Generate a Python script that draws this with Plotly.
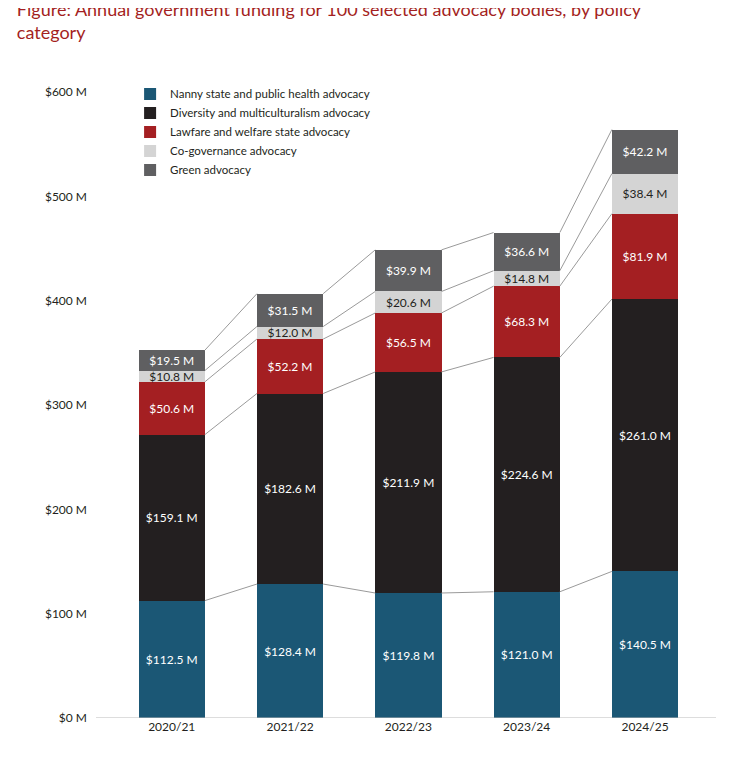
import plotly.graph_objects as go

years = ["2020/21", "2021/22", "2022/23", "2023/24", "2024/25"]
nanny = [112.5, 128.4, 119.8, 121.0, 140.5]
diversity = [159.1, 182.6, 211.9, 224.6, 261.0]
lawfare = [50.6, 52.2, 56.5, 68.3, 81.9]
cogov = [10.8, 12.0, 20.6, 14.8, 38.4]
green = [19.5, 31.5, 39.9, 36.6, 42.2]

series = [
    ("Nanny state and public health advocacy", nanny, "#1B5775", "white"),
    ("Diversity and multiculturalism advocacy", diversity, "#231F20", "white"),
    ("Lawfare and welfare state advocacy", lawfare, "#A41F22", "white"),
    ("Co-governance advocacy", cogov, "#D4D4D4", "#231F20"),
    ("Green advocacy", green, "#5F5F61", "white"),
]

W = 0.56
xs = list(range(len(years)))
fig = go.Figure()

cum = [0.0] * len(years)
for name, vals, col, tc in series:
    cum = [c + v for c, v in zip(cum, vals)]
    for i in range(len(years) - 1):
        fig.add_trace(go.Scatter(x=[i + W / 2, i + 1 - W / 2], y=[cum[i], cum[i + 1]],
                                 mode="lines", line=dict(color="#9A9A9A", width=1),
                                 showlegend=False, hoverinfo="skip"))

for name, vals, col, tc in series:
    fig.add_trace(go.Bar(
        x=xs, y=vals, name=name, width=W, marker=dict(color=col, line=dict(width=0)),
        text=[f"${v:.1f} M" for v in vals], textposition="inside", insidetextanchor="middle",
        textfont=dict(color=tc, size=12, family="Lato"), constraintext="none",
    ))

fig.update_layout(
    barmode="stack", width=738, height=764, plot_bgcolor="white", paper_bgcolor="white",
    margin=dict(l=88, r=30, t=84, b=54),
    font=dict(family="Lato", size=12, color="#231F20"),
    title=dict(text="Figure: Annual government funding for 100 selected advocacy bodies, by policy<br>category",
               x=0.012, xanchor="left", y=0.99, yanchor="top",
               font=dict(size=18, color="#A41F22", family="Lato")),
    legend=dict(x=0.055, y=1.02, xanchor="left", yanchor="top", traceorder="normal",
                bgcolor="rgba(0,0,0,0)", font=dict(size=11.5), itemwidth=30,
                tracegroupgap=8),
    uniformtext=dict(minsize=8, mode="show"),
)
fig.update_xaxes(range=[-0.64, 4.6], tickmode="array", tickvals=xs, ticktext=years,
                 showgrid=False, zeroline=False, showline=False, ticks="")
fig.update_yaxes(range=[0, 600], tickvals=[0, 100, 200, 300, 400, 500, 600],
                 ticktext=[f"${v} M" for v in [0, 100, 200, 300, 400, 500, 600]],
                 showgrid=False, zeroline=False, ticks="", ticklabelstandoff=8)
fig.add_shape(type="line", xref="paper", yref="y", x0=0, x1=1, y0=0, y1=0,
              line=dict(color="#BBBBBB", width=1))
fig.write_html("out.html")
